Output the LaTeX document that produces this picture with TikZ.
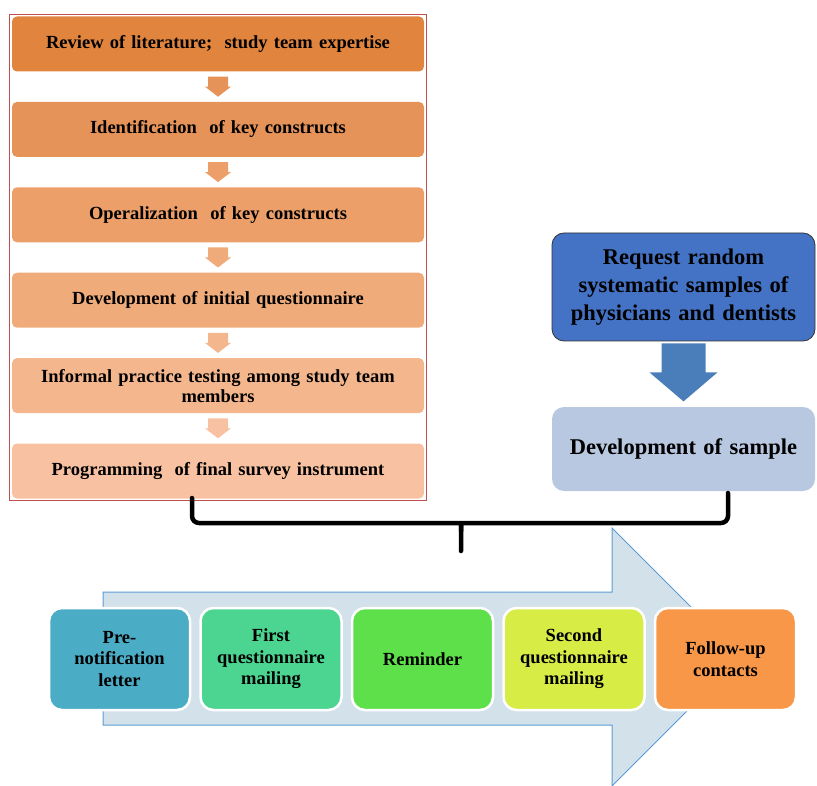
\documentclass[tikz,border=0pt]{standalone}
\usepackage{fontspec}
\setmainfont{Liberation Serif}
\usetikzlibrary{positioning,calc,fit}
\definecolor{o1}{HTML}{E0843E}
\definecolor{o2}{HTML}{E6935A}
\definecolor{o3}{HTML}{EC9F68}
\definecolor{o4}{HTML}{F0AB7A}
\definecolor{o5}{HTML}{F4B68D}
\definecolor{o6}{HTML}{F8C2A2}
\definecolor{frame}{HTML}{C0504D}
\definecolor{reqblue}{HTML}{4472C4}
\definecolor{arrblue}{HTML}{4A7EBB}
\definecolor{samp}{HTML}{B9C8E1}
\definecolor{bigfill}{HTML}{D2E1EA}
\definecolor{bigline}{HTML}{5B9BD5}
\definecolor{p1}{HTML}{4BACC6}
\definecolor{p2}{HTML}{4CD590}
\definecolor{p3}{HTML}{5EE04A}
\definecolor{p4}{HTML}{D8EC46}
\definecolor{p5}{HTML}{F89748}
\tikzset{%
   stepbox/.style={
      rectangle,
      rounded corners=5pt,
      minimum width=412pt,
      minimum height=55pt,
      text width=404pt,
      align=center,
      inner sep=1pt,
      font=\bfseries\fontsize{18.5}{20}\selectfont
   },
   sidebox/.style={
      rectangle,
      rounded corners=12pt,
      minimum width=263pt,
      text width=256pt,
      align=center,
      inner sep=1pt,
      font=\bfseries\fontsize{22.5}{28}\selectfont
   },
   phase/.style={
      rectangle,
      rounded corners=13pt,
      draw=white,
      line width=2.5pt,
      minimum width=141pt,
      minimum height=102pt,
      text width=134pt,
      align=center,
      inner sep=1pt,
      font=\bfseries\fontsize{18.5}{21.5}\selectfont
   },
   brc/.style={
      line width=4.5pt,
      line cap=round,
      rounded corners=7pt
   },
}
\begin{document}
\begin{tikzpicture}[x=1pt, y=-1pt, node distance=30pt]
   \useasboundingbox (0,0) rectangle (817,786);
   % big process arrow
   \filldraw[fill=bigfill, draw=bigline, line width=1pt]
      (103,592) -- (612,592) -- (612,528) -- (741,657) -- (612,786)
      -- (612,725) -- (103,725) -- cycle;
   % questionnaire steps
   \node[stepbox, fill=o1] (s1) at (218,44) {Review of literature;\ \ study team expertise};
   \node[stepbox, fill=o2, below=of s1] (s2) {Identification\ \ of key constructs};
   \node[stepbox, fill=o3, below=of s2] (s3) {Operalization\ \ of key constructs};
   \node[stepbox, fill=o4, below=of s3] (s4) {Development of initial questionnaire};
   \node[stepbox, fill=o5, below=of s4] (s5) {\makebox[0pt]{Informal practice testing among study team}\\members};
   \node[stepbox, fill=o6, below=of s5] (s6) {Programming\ \ of final survey instrument};
   \node[draw=frame, line width=.8pt, fit=(s1)(s6), inner sep=2pt] (frm) {};
   \foreach \a/\b in {1/2,2/3,3/4,4/5,5/6}
      \fill[o\b] ($(s\a.south)!.5!(s\b.north)$) +(-10,-10) -- +(10,-10) -- +(10,0)
         -- +(13,0) -- +(0,10) -- +(-13,0) -- +(-10,0) -- cycle;
   % sample
   \node[sidebox, fill=reqblue, draw=black!80, line width=.8pt, minimum height=108pt] (req) at (683.5,287)
      {Request random\\ systematic samples of\\ physicians and dentists};
   \node[sidebox, fill=samp, minimum height=84pt] (dev) at (683.5,449) {Development of sample};
   \fill[arrblue] (req.south) +(-22,2) -- +(22,2) -- +(22,31) -- +(34,31)
      -- +(0,60) -- +(-34,31) -- +(-22,31) -- cycle;
   % brace
   \coordinate (bl) at (192,498);
   \coordinate (br) at (728,493);
   \coordinate (bm) at (461,523);
   \coordinate (bt) at (461,551);
   \draw[brc] (bl) -- (bl |- bm) -- ($(bm)+(-8,0)$) .. controls (bm) .. ($(bm)+(0,8)$) -- (bt);
   \draw[brc] ($(bm)+(0,8)$) .. controls (bm) .. ($(bm)+(8,0)$) -- (br |- bm) -- (br);
   % mailing phases
   \node[phase, fill=p1] (p1) at (119.5,659) {Pre-\\notification\\letter};
   \node[phase, fill=p2, right=8pt of p1] (p2) {First\\questionnaire\\mailing};
   \node[phase, fill=p3, right=8pt of p2] (p3) {Reminder};
   \node[phase, fill=p4, right=8pt of p3] (p4) {Second\\questionnaire\\mailing};
   \node[phase, fill=p5, right=8pt of p4] (p5) {Follow-up\\contacts\\[6pt]};
\end{tikzpicture}
\end{document}
